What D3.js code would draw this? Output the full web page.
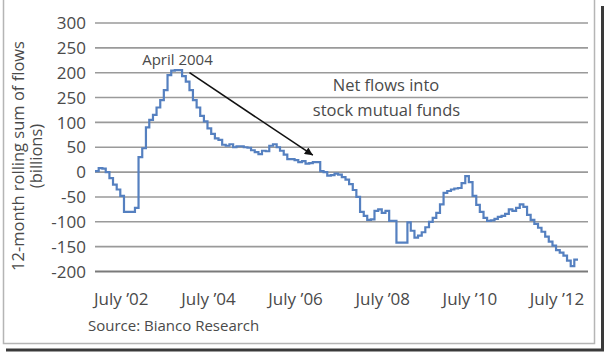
<!DOCTYPE html>
<html><head><meta charset="utf-8">
<script src="https://cdn.jsdelivr.net/npm/d3@7"></script>
<style>
body{margin:0;background:#fff}
svg{display:block}
text{font-family:"Open Sans",sans-serif;fill:#4a4a4a}
</style>
</head><body>
<svg id="c" width="611" height="357"></svg>
<script>
// ---- data ----
const startMonth = "2001-12";
const flows = [
  2, 8, 7, 0, -12, -25, -35, -48, -80, -80, -80, -72,
  30, 48, 90, 105, 115, 130, 145, 165, 195, 204, 205, 205,
  193, 182, 165, 145, 130, 113, 102, 88, 77, 68, 65, 55,
  53, 56, 50, 52, 52, 50, 49, 44, 40, 36, 43, 42,
  53, 56, 50, 43, 35, 26, 26, 24, 20, 22, 17, 18,
  20, 20, 2, 0, -7, -6, -3, -5, -10, -15, -24, -36,
  -50, -80, -88, -96, -95, -78, -75, -82, -78, -98, -98, -142,
  -142, -142, -101, -118, -132, -128, -121, -111, -100, -92, -82, -65,
  -42, -38, -35, -33, -32, -22, -8, -20, -48, -66, -80, -92,
  -98, -97, -94, -90, -88, -84, -75, -78, -72, -65, -70, -86,
  -96, -104, -112, -120, -130, -140, -148, -157, -162, -168, -178, -189,
  -176
];
const yTicks = [300, 250, 200, 150, 100, 50, 0, -50, -100, -150, -200];
const yTickLabels = ["300", "250", "200", "250", "100", "50", "0", "-50", "-100", "-150", "-200"];
const xTickDates = ["2002-07", "2004-07", "2006-07", "2008-07", "2010-07", "2012-07"];
const xTickLabels = ["July \u201902", "July \u201904", "July \u201906", "July \u201908", "July \u201910", "July \u201912"];
const yTitle = ["12-month rolling sum of flows", "(billions)"];
const peakLabel = "April 2004";
const seriesLabel = ["Net flows into", "stock mutual funds"];
const sourceText = "Source: Bianco Research";

// ---- build ----
const parse = d3.timeParse("%Y-%m");
const start = parse(startMonth);
const data = flows.map((v, i) => ({date: d3.timeMonth.offset(start, i), v}));
const endDate = d3.timeMonth.offset(start, flows.length);

const svg = d3.select("#c");

// frame + shadow
svg.append("rect").attr("x", 3.5).attr("y", -3).attr("width", 591).attr("height", 346.5)
  .attr("fill", "none").attr("stroke", "#b5b5b5").attr("stroke-width", 1.5);
svg.append("line").attr("x1", 602.5).attr("x2", 602.5).attr("y1", 6).attr("y2", 351)
  .attr("stroke", "#3a3a3a").attr("stroke-width", 3);
svg.append("line").attr("x1", 6).attr("x2", 604).attr("y1", 350).attr("y2", 350)
  .attr("stroke", "#3a3a3a").attr("stroke-width", 3);

const x = d3.scaleTime().domain([start, endDate]).range([95, 578]);
const y = d3.scaleLinear().domain([-200, 300]).range([271.5, 23]);
const gridX0 = 95, gridX1 = 588;

// gridlines
svg.append("g").selectAll("line").data(yTicks).join("line")
  .attr("x1", gridX0).attr("x2", gridX1)
  .attr("y1", d => y(d)).attr("y2", d => y(d))
  .attr("stroke", d => d === -200 ? "#7a7a7a" : "#9a9a9a")
  .attr("stroke-width", d => d === -200 ? 2.2 : 1.6);

// y tick labels
svg.append("g").selectAll("text").data(yTicks).join("text")
  .attr("x", 86).attr("y", d => y(d)).attr("dy", "0.36em")
  .attr("text-anchor", "end").attr("font-size", 17)
  .text((d, i) => yTickLabels[i]);

// x tick labels
svg.append("g").selectAll("text").data(xTickDates).join("text")
  .attr("x", d => x(parse(d)) + 1).attr("y", 305)
  .attr("text-anchor", "middle").attr("font-size", 17)
  .text((d, i) => xTickLabels[i]);

// y title
const yt = svg.append("text").attr("transform", "translate(0,156) rotate(-90)")
  .attr("text-anchor", "middle").attr("font-size", 16.5);
yt.append("tspan").attr("x", 0).attr("y", 24).text(yTitle[0]);
yt.append("tspan").attr("x", 0).attr("y", 42).text(yTitle[1]);

// line
const line = d3.line().x(d => x(d.date)).y(d => y(d.v)).curve(d3.curveStepAfter);
const lineData = data.concat([{date: endDate, v: flows[flows.length - 1]}]);
svg.append("path").datum(lineData).attr("d", line)
  .attr("fill", "none").attr("stroke", "#5580c0").attr("stroke-width", 2.2)
  .attr("stroke-linejoin", "miter");

// arrow annotation
svg.append("defs").append("marker").attr("id", "ah")
  .attr("viewBox", "0 0 10 10").attr("refX", 10).attr("refY", 5)
  .attr("markerWidth", 11).attr("markerHeight", 8).attr("markerUnits", "userSpaceOnUse")
  .attr("orient", "auto")
  .append("path").attr("d", "M0,0L10,5L0,10z").attr("fill", "#111");
const m = i => d3.timeMonth.offset(start, i);
svg.append("line")
  .attr("x1", x(m(26.2))).attr("y1", y(200))
  .attr("x2", x(m(60.8))).attr("y2", y(34))
  .attr("stroke", "#111").attr("stroke-width", 1.6).attr("marker-end", "url(#ah)");

svg.append("text").attr("x", 177.5).attr("y", y(216)).attr("text-anchor", "middle")
  .attr("font-size", 15).text(peakLabel);
svg.append("text").attr("x", 386).attr("y", y(164)).attr("text-anchor", "middle")
  .attr("font-size", 16.5).text(seriesLabel[0]);
svg.append("text").attr("x", 386.5).attr("y", y(113.5)).attr("text-anchor", "middle")
  .attr("font-size", 16.5).text(seriesLabel[1]);

svg.append("text").attr("x", 88).attr("y", 331).attr("font-size", 15).text(sourceText);
</script>
</body></html>
